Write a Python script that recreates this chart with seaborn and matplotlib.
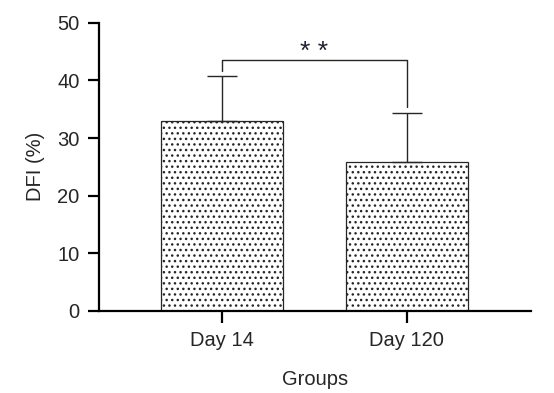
import matplotlib
matplotlib.use("Agg")
import matplotlib.pyplot as plt
import seaborn as sns
import numpy as np

# data
groups = ["Day 14", "Day 120"]
means = [33.0, 25.8]
sds = [7.7, 8.6]
sig_label = "* *"
sig_height = 43.5
sig_leg_bottom = [41.6, 35.4]

sns.set_theme(style="ticks")
plt.rcParams["font.family"] = ["Liberation Sans", "DejaVu Sans"]
plt.rcParams["hatch.color"] = "#555555"
plt.rcParams["hatch.linewidth"] = 1.0

ink = "#262626"
fs = 14.5

fig = plt.figure(figsize=(5.54, 3.93), dpi=100)
ax = fig.add_axes([0.1787, 0.2087, 0.7798, 0.7335])

sns.barplot(x=groups, y=means, color="white", edgecolor=ink, linewidth=0.9,
            width=0.66, errorbar=None, ax=ax)
for bar in ax.patches:
    bar.set_hatch("...")
    bar.set_facecolor("white")

# one-sided (upward) error bars
xpos = np.arange(len(groups))
ax.errorbar(xpos, means, yerr=[np.zeros(len(sds)), sds], fmt="none",
            ecolor=ink, elinewidth=1.0, capsize=11, capthick=1.0)

# significance bracket
ax.plot([xpos[0], xpos[0], xpos[1], xpos[1]],
        [sig_leg_bottom[0], sig_height, sig_height, sig_leg_bottom[1]],
        color=ink, lw=1.0)
ax.text((xpos[0] + xpos[1]) / 2, sig_height - 0.6, sig_label, ha="center", va="bottom",
        fontsize=19, color="#1f2233")

ax.set_xlim(-0.665, 1.672)
ax.set_ylim(0, 50)
ax.set_yticks([0, 10, 20, 30, 40, 50])
ax.set_xlabel("Groups", fontsize=fs, color=ink, labelpad=14)
ax.set_ylabel("DFI (%)", fontsize=fs, color=ink, labelpad=9)

sns.despine(ax=ax)
for side in ["left", "bottom"]:
    ax.spines[side].set_linewidth(1.6)
    ax.spines[side].set_color("black")
ax.tick_params(axis="y", length=8, width=1.6, pad=6, labelsize=fs, labelcolor=ink, color="black")
ax.tick_params(axis="x", length=8.5, width=1.6, pad=6, labelsize=fs, labelcolor=ink, color="black")

fig.savefig("out.png", dpi=100)
